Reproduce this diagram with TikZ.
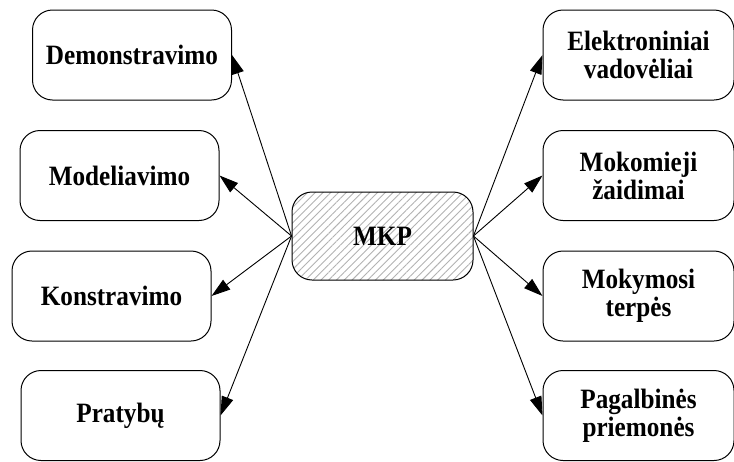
\documentclass[tikz,border=0pt]{standalone}
\usepackage{fontspec}
\setmainfont{Liberation Serif}
\newfontfamily\boxfont[FakeStretch=0.9]{Liberation Serif Bold}
\usetikzlibrary{arrows.meta,patterns.meta}
\tikzset{
  x=1pt, y=-1pt,
  item/.style={draw=black, line width=1pt, rounded corners=20pt, align=center,
    font=\fontsize{28}{28}\selectfont\boxfont, inner sep=0pt},
  leftbox/.style={item, minimum width=199pt, minimum height=90pt},
  rightbox/.style={item, minimum width=191pt, minimum height=90pt},
  hub/.style={item, minimum width=181pt, minimum height=88pt,
    pattern={Lines[angle=45,distance=5.5pt,line width=0.9pt]}, pattern color=gray!60},
  link/.style={line width=0.9pt, -{Triangle[length=19pt,width=12pt]}}
}
\begin{document}
\begin{tikzpicture}
\useasboundingbox (0,0) rectangle (734,461);

% central node
\node[hub] (mkp) at (382.5,236) {};
\node[font=\fontsize{28}{28}\selectfont\boxfont] (mkplabel) at (mkp) {MKP};

% left column
\node[leftbox] (demo) at (132,55) {Demonstravimo};
\node[leftbox] (model) at (119.5,175.5) {Modeliavimo};
\node[leftbox] (konst) at (111.5,296) {Konstravimo};
\node[leftbox] (prat) at (120.5,415.5) {Pratybų};

% right column
\node[rightbox] (elek) at (638.5,55) {Elektroniniai\\vadovėliai};
\node[rightbox] (zaid) at (638.5,175.5) {Mokomieji\\žaidimai};
\node[rightbox] (terp) at (638.5,296) {Mokymosi\\terpės};
\node[rightbox] (prie) at (638.5,415.5) {Pagalbinės\\priemonės};

% connectors
\foreach \t in {demo,model,konst,prat}
  \draw[link] (mkp.west) -- (\t.east);
\foreach \t in {elek,zaid,terp,prie}
  \draw[link] (mkp.east) -- (\t.west);
\end{tikzpicture}
\end{document}
